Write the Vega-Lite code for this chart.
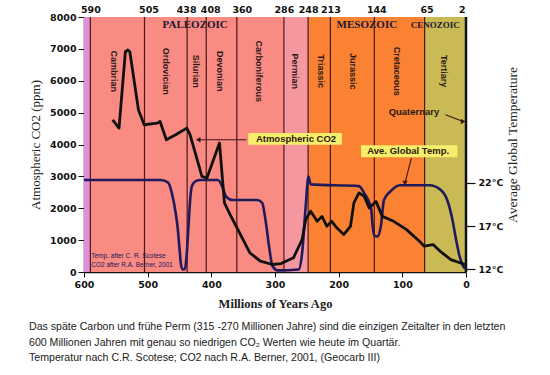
{
  "$schema": "https://vega.github.io/schema/vega-lite/v6.json",
  "width": 382,
  "height": 255,
  "autosize": {"type": "none"},
  "padding": {"left": 84, "top": 17, "right": 84, "bottom": 103},
  "background": "white",
  "title": {
    "text": [
      "Das späte Carbon und frühe Perm (315 -270 Millionen Jahre) sind die einzigen Zeitalter in den letzten",
      "600 Millionen Jahren mit genau so niedrigen CO₂ Werten wie heute im Quartär.",
      "Temperatur nach C.R. Scotese; CO2 nach R.A. Berner, 2001, (Geocarb III)"
    ],
    "orient": "bottom",
    "anchor": "start",
    "frame": "group",
    "dx": -55,
    "offset": 12,
    "font": "Liberation Sans",
    "fontSize": 10.6,
    "fontWeight": "normal",
    "lineHeight": 15.5,
    "color": "#1a1a1a"
  },
  "config": {"view": {"stroke": null}, "axis": {"grid": false}},
  "resolve": {"scale": {"y": "independent"}, "axis": {"x": "independent", "y": "independent"}},
  "layer": [
    {
      "data": {"values": [
        {"zone": "Precambrian", "start": 600, "end": 590},
        {"zone": "Paleozoic", "start": 590, "end": 286},
        {"zone": "Permian", "start": 286, "end": 248},
        {"zone": "Mesozoic", "start": 248, "end": 65},
        {"zone": "Cenozoic", "start": 65, "end": 0}
      ]},
      "mark": {"type": "rect"},
      "encoding": {
        "x": {"field": "start", "type": "quantitative", "scale": {"domain": [0, 600], "reverse": true, "nice": false, "zero": false}, "axis": null},
        "x2": {"field": "end"},
        "color": {"field": "zone", "type": "nominal", "legend": null,
          "scale": {"domain": ["Precambrian", "Paleozoic", "Permian", "Mesozoic", "Cenozoic"],
                    "range": ["#DE8FD8", "#F98B82", "#F5979F", "#FA8232", "#C9BA55"]}}
      }
    },
    {
      "data": {"values": [
        {"b": 590}, {"b": 505}, {"b": 438}, {"b": 408}, {"b": 360}, {"b": 286},
        {"b": 248}, {"b": 213}, {"b": 144}, {"b": 65}
      ]},
      "mark": {"type": "rule", "color": "#4a1818", "strokeWidth": 1.2},
      "encoding": {
        "x": {"field": "b", "type": "quantitative", "scale": {"domain": [0, 600], "reverse": true, "nice": false, "zero": false},
          "axis": {"orient": "top", "values": [590, 505, 438, 408, 360, 286, 248, 213, 144, 65, 2],
            "ticks": false, "domain": false, "title": null, "labelFont": "DejaVu Sans", "labelFontWeight": "bold",
            "labelFontSize": 9.5, "labelColor": "#111", "labelPadding": 3, "labelOverlap": false, "labelFlush": false,
            "labelOffset": {"expr": "datum.value == 505 ? 4 : datum.value == 408 ? 4 : datum.value == 360 ? 5 : datum.value == 144 ? 2 : datum.value == 65 ? 2 : datum.value == 2 ? -3 : datum.value == 438 ? -1 : 0"}}}
      }
    },
    {
      "data": {"values": [{"b": 0}]},
      "mark": {"type": "rule", "color": "#111", "strokeWidth": 2.5},
      "encoding": {
        "x": {"field": "b", "type": "quantitative", "scale": {"domain": [0, 600], "reverse": true, "nice": false, "zero": false}, "axis": null}
      }
    },
    {
      "data": {"values": [
        {"period": "Cambrian", "my": 552.6}, {"period": "Ordovician", "my": 471.5},
        {"period": "Silurian", "my": 424}, {"period": "Devonian", "my": 386},
        {"period": "Carboniferous", "my": 325}, {"period": "Permian", "my": 268},
        {"period": "Triassic", "my": 228}, {"period": "Jurassic", "my": 178},
        {"period": "Cretaceous", "my": 109}, {"period": "Tertiary", "my": 35}
      ]},
      "mark": {"type": "text", "angle": 90, "align": "center", "baseline": "middle", "font": "Liberation Sans",
               "fontWeight": "bold", "fontSize": 9, "color": "#2d1a1a"},
      "encoding": {
        "x": {"field": "my", "type": "quantitative", "scale": {"domain": [0, 600], "reverse": true, "nice": false, "zero": false}, "axis": null},
        "y": {"datum": 6300, "type": "quantitative", "scale": {"domain": [0, 8000], "nice": false, "zero": false}, "axis": null},
        "text": {"field": "period"}
      }
    },
    {
      "data": {"values": [
        {"era": "PALEOZOIC", "my": 425.4}, {"era": "MESOZOIC", "my": 155.7}
      ]},
      "mark": {"type": "text", "align": "center", "baseline": "middle", "font": "Liberation Serif",
               "fontWeight": "bold", "fontSize": 11, "color": "#1e1630"},
      "encoding": {
        "x": {"field": "my", "type": "quantitative", "scale": {"domain": [0, 600], "reverse": true, "nice": false, "zero": false}, "axis": null},
        "y": {"datum": 7764, "type": "quantitative", "scale": {"domain": [0, 8000], "nice": false, "zero": false}, "axis": null},
        "text": {"field": "era"}
      }
    },
    {
      "data": {"values": [{"era": "CENOZOIC", "my": 48.3}]},
      "mark": {"type": "text", "align": "center", "baseline": "middle", "font": "Liberation Serif",
               "fontWeight": "bold", "fontSize": 9, "color": "#1e1630"},
      "encoding": {
        "x": {"field": "my", "type": "quantitative", "scale": {"domain": [0, 600], "reverse": true, "nice": false, "zero": false}, "axis": null},
        "y": {"datum": 7764, "type": "quantitative", "scale": {"domain": [0, 8000], "nice": false, "zero": false}, "axis": null},
        "text": {"field": "era"}
      }
    },
    {
      "data": {"values": [
        {"note": "Temp. after C. R. Scotese", "my": 588.6, "v": 517},
        {"note": "CO2 after R.A. Berner, 2001", "my": 588.6, "v": 235}
      ]},
      "mark": {"type": "text", "align": "left", "baseline": "middle", "font": "Liberation Sans", "fontSize": 6.5, "color": "#1b1560"},
      "encoding": {
        "x": {"field": "my", "type": "quantitative", "scale": {"domain": [0, 600], "reverse": true, "nice": false, "zero": false}, "axis": null},
        "y": {"field": "v", "type": "quantitative", "scale": {"domain": [0, 8000], "nice": false, "zero": false}, "axis": null},
        "text": {"field": "note"}
      }
    },
    {
      "data": {"values": [
        {"my": 600, "temp": 22.3}, {"my": 479.5, "temp": 22.3}, {"my": 467.8, "temp": 22.0},
        {"my": 462, "temp": 20.8}, {"my": 456, "temp": 18.5}, {"my": 453.2, "temp": 17.0},
        {"my": 450.3, "temp": 14.7}, {"my": 447.3, "temp": 12.4}, {"my": 444.5, "temp": 12.0},
        {"my": 441.5, "temp": 12.1}, {"my": 438.9, "temp": 13.5}, {"my": 435.9, "temp": 17.0},
        {"my": 433.3, "temp": 20.0}, {"my": 430.6, "temp": 21.6}, {"my": 423.8, "temp": 22.2},
        {"my": 417.5, "temp": 22.3}, {"my": 389.7, "temp": 22.3}, {"my": 383, "temp": 21.6},
        {"my": 376.7, "temp": 20.4}, {"my": 366.3, "temp": 20.0}, {"my": 328.5, "temp": 20.0},
        {"my": 320.3, "temp": 19.7}, {"my": 314.9, "temp": 17.7}, {"my": 309.4, "temp": 14.7},
        {"my": 304, "temp": 12.4}, {"my": 295.8, "temp": 11.9}, {"my": 262.9, "temp": 12.0},
        {"my": 257.4, "temp": 13.9}, {"my": 251.8, "temp": 19.3}, {"my": 247.5, "temp": 22.7},
        {"my": 243.9, "temp": 21.8}, {"my": 168.1, "temp": 21.6}, {"my": 160, "temp": 20.8},
        {"my": 149.2, "temp": 19.1}, {"my": 146.6, "temp": 17.0}, {"my": 144, "temp": 15.9},
        {"my": 138.8, "temp": 15.8}, {"my": 133.7, "temp": 17.0}, {"my": 128.8, "temp": 20.0},
        {"my": 118.6, "temp": 21.0}, {"my": 103.4, "temp": 21.7}, {"my": 57.2, "temp": 21.7},
        {"my": 40.5, "temp": 21.2}, {"my": 29.5, "temp": 20.0}, {"my": 21.2, "temp": 17.7},
        {"my": 15.5, "temp": 15.4}, {"my": 10, "temp": 13.5}, {"my": 4.5, "temp": 12.4},
        {"my": 0.5, "temp": 12.1}
      ]},
      "mark": {"type": "line", "color": "#1f1a5c", "strokeWidth": 2.6, "interpolate": "monotone"},
      "encoding": {
        "x": {"field": "my", "type": "quantitative", "scale": {"domain": [0, 600], "reverse": true, "nice": false, "zero": false}, "axis": null},
        "y": {"field": "temp", "type": "quantitative", "scale": {"domain": [11.71, 41.08], "nice": false, "zero": false},
          "axis": {"orient": "right", "values": [12, 17, 22], "labelExpr": "datum.value + '°C'", "grid": false,
            "domain": false, "tickSize": 9, "tickColor": "#111", "tickWidth": 1.2, "labelPadding": 3,
            "labelFont": "DejaVu Sans", "labelFontWeight": "bold", "labelFontSize": 9.5, "labelColor": "#111",
            "title": "Average Global Temperature", "titleAngle": 270, "titleX": 46, "titleY": 127.5,
            "titleAlign": "center", "titleBaseline": "middle", "titleFont": "Liberation Serif",
            "titleFontSize": 13.5, "titleFontWeight": "normal", "titleColor": "#222"}}
      }
    },
    {
      "data": {"values": [
        {"my": 555, "co2": 4775}, {"my": 545, "co2": 4515}, {"my": 535, "co2": 6910},
        {"my": 531, "co2": 6965}, {"my": 528, "co2": 6910}, {"my": 514.5, "co2": 5090},
        {"my": 505.5, "co2": 4620}, {"my": 485, "co2": 4670}, {"my": 480.5, "co2": 4720},
        {"my": 470.7, "co2": 4150}, {"my": 456, "co2": 4305}, {"my": 438.5, "co2": 4515},
        {"my": 433.3, "co2": 4305}, {"my": 414.8, "co2": 3000}, {"my": 406.9, "co2": 2950},
        {"my": 387.2, "co2": 4045}, {"my": 379.4, "co2": 2170}, {"my": 370.5, "co2": 1800},
        {"my": 361, "co2": 1435}, {"my": 339.4, "co2": 600}, {"my": 323, "co2": 340},
        {"my": 304, "co2": 235}, {"my": 290.4, "co2": 265}, {"my": 271, "co2": 445},
        {"my": 257.4, "co2": 1020}, {"my": 251.8, "co2": 1645}, {"my": 243.9, "co2": 1905},
        {"my": 233.8, "co2": 1590}, {"my": 226.2, "co2": 1745}, {"my": 218.6, "co2": 1435},
        {"my": 210.9, "co2": 1590}, {"my": 202.9, "co2": 1385}, {"my": 192.1, "co2": 1175},
        {"my": 181.4, "co2": 1435}, {"my": 176.1, "co2": 2170}, {"my": 168.1, "co2": 2480},
        {"my": 160, "co2": 2375}, {"my": 152, "co2": 2010}, {"my": 141.4, "co2": 2215},
        {"my": 131.4, "co2": 1745}, {"my": 113.6, "co2": 1590}, {"my": 93.4, "co2": 1330},
        {"my": 73.1, "co2": 965}, {"my": 65.5, "co2": 810}, {"my": 51.7, "co2": 860},
        {"my": 40.5, "co2": 650}, {"my": 23.8, "co2": 390}, {"my": 1.7, "co2": 235}
      ]},
      "mark": {"type": "line", "color": "#111111", "strokeWidth": 2.8, "strokeJoin": "round"},
      "encoding": {
        "x": {"field": "my", "type": "quantitative", "scale": {"domain": [0, 600], "reverse": true, "nice": false, "zero": false},
          "axis": {"orient": "bottom", "values": [600, 500, 400, 300, 200, 100, 0], "domainColor": "#111", "domainWidth": 1.5,
            "tickColor": "#111", "tickSize": 5, "labelPadding": 2, "labelFont": "DejaVu Sans", "labelFontWeight": "bold",
            "labelFontSize": 9.5, "labelColor": "#111", "labelFlush": false,
            "title": "Millions of Years Ago", "titleFont": "Liberation Serif", "titleFontSize": 12.5,
            "titleFontWeight": "bold", "titleColor": "#222", "titlePadding": 9}},
        "y": {"field": "co2", "type": "quantitative", "scale": {"domain": [0, 8000], "nice": false, "zero": false},
          "axis": {"orient": "left", "values": [0, 1000, 2000, 3000, 4000, 5000, 6000, 7000, 8000], "format": "d",
            "domainColor": "#111", "domainWidth": 1.5, "tickColor": "#111", "tickSize": 6, "labelPadding": 2,
            "labelFont": "DejaVu Sans", "labelFontWeight": "bold", "labelFontSize": 9.5, "labelColor": "#111",
            "title": "Atmospheric CO2 (ppm)", "titleFont": "Liberation Serif", "titleFontSize": 13,
            "titleFontWeight": "normal", "titleColor": "#222", "titlePadding": 7}}
      }
    },
    {
      "data": {"values": [
        {"label": "Atmospheric CO2", "x1": 342, "x2": 194.9, "y1": 3992, "y2": 4358},
        {"label": "Ave. Global Temp.", "x1": 164.9, "x2": 13.3, "y1": 3601, "y2": 3976}
      ]},
      "mark": {"type": "rect", "color": "#F6EE6A"},
      "encoding": {
        "x": {"field": "x1", "type": "quantitative", "scale": {"domain": [0, 600], "reverse": true, "nice": false, "zero": false}, "axis": null},
        "x2": {"field": "x2"},
        "y": {"field": "y1", "type": "quantitative", "scale": {"domain": [0, 8000], "nice": false, "zero": false}, "axis": null},
        "y2": {"field": "y2"}
      }
    },
    {
      "data": {"values": [
        {"label": "Atmospheric CO2", "my": 267, "v": 4175},
        {"label": "Ave. Global Temp.", "my": 90.8, "v": 3789},
        {"label": "Quaternary", "my": 81.7, "v": 5025}
      ]},
      "mark": {"type": "text", "align": "center", "baseline": "middle", "font": "Liberation Sans",
               "fontWeight": "bold", "fontSize": 9.5, "color": "#2a1a10"},
      "encoding": {
        "x": {"field": "my", "type": "quantitative", "scale": {"domain": [0, 600], "reverse": true, "nice": false, "zero": false}, "axis": null},
        "y": {"field": "v", "type": "quantitative", "scale": {"domain": [0, 8000], "nice": false, "zero": false}, "axis": null},
        "text": {"field": "label"}
      }
    },
    {
      "data": {"values": [
        {"arrow": "co2", "my": 344.8, "v": 4149}, {"arrow": "co2", "my": 420.6, "v": 4149},
        {"arrow": "temp", "my": 85.8, "v": 3576}, {"arrow": "temp", "my": 95.8, "v": 2793},
        {"arrow": "quat", "my": 32.2, "v": 4931}, {"arrow": "quat", "my": 4.5, "v": 4721}
      ]},
      "mark": {"type": "line", "color": "#3a1414", "strokeWidth": 1.1},
      "encoding": {
        "x": {"field": "my", "type": "quantitative", "scale": {"domain": [0, 600], "reverse": true, "nice": false, "zero": false}, "axis": null},
        "y": {"field": "v", "type": "quantitative", "scale": {"domain": [0, 8000], "nice": false, "zero": false}, "axis": null},
        "detail": {"field": "arrow"}
      }
    },
    {
      "data": {"values": [
        {"arrow": "co2", "my": 420.6, "v": 4149},
        {"arrow": "temp", "my": 95.8, "v": 2793},
        {"arrow": "quat", "my": 4.5, "v": 4721}
      ]},
      "mark": {"type": "point", "filled": true, "color": "#3a1414", "size": 28, "opacity": 1},
      "encoding": {
        "x": {"field": "my", "type": "quantitative", "scale": {"domain": [0, 600], "reverse": true, "nice": false, "zero": false}, "axis": null},
        "y": {"field": "v", "type": "quantitative", "scale": {"domain": [0, 8000], "nice": false, "zero": false}, "axis": null},
        "shape": {"field": "arrow", "type": "nominal", "legend": null,
          "scale": {"domain": ["co2", "temp", "quat"], "range": ["triangle-left", "triangle-down", "triangle-right"]}}
      }
    }
  ]
}
